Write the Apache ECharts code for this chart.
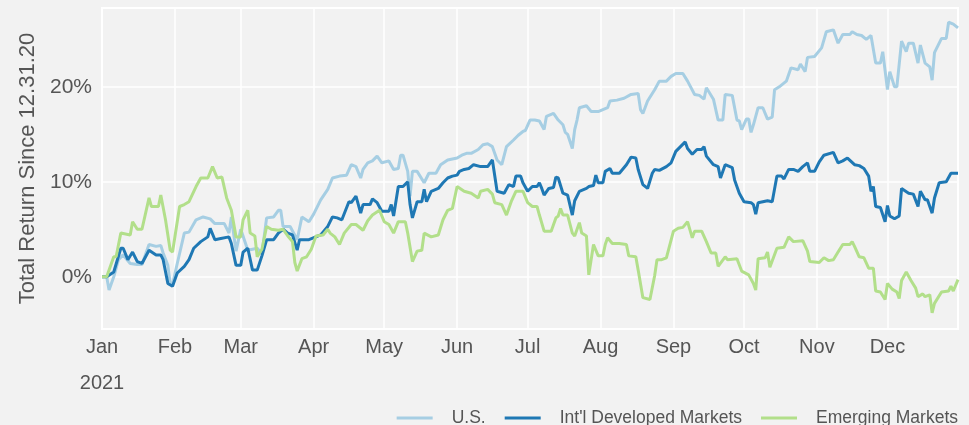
<!DOCTYPE html>
<html>
<head>
<meta charset="utf-8">
<script src="https://cdn.jsdelivr.net/npm/echarts@6/dist/echarts.min.js"></script>
<style>
  html, body { margin: 0; padding: 0; background: #f2f2f2; }
  #chart { width: 969px; height: 425px; }
</style>
</head>
<body>
<div id="chart"></div>
<script>
// day of 2021 (0 = Jan 1), return in %
var usDays = [0, 2, 3, 5, 7, 9, 12, 15, 17, 20, 23, 25, 26, 28, 29, 30, 32, 35, 37, 40, 43, 46, 48, 52, 54, 55, 57, 59, 62, 66, 68, 70, 73, 75, 76, 77, 80, 83, 85, 88, 90, 93, 96, 98, 101, 104, 106, 108, 110, 111, 113, 115, 117, 119, 122, 124, 126, 127, 128, 130, 131, 132, 134, 137, 139, 142, 144, 147, 151, 153, 155, 157, 160, 162, 164, 166, 168, 170, 172, 175, 177, 179, 180, 182, 184, 186, 188, 189, 192, 194, 196, 197, 198, 200, 201, 202, 203, 206, 208, 211, 215, 216, 219, 222, 225, 228, 229, 230, 232, 235, 237, 240, 242, 244, 247, 249, 252, 254, 256, 257, 260, 262, 264, 265, 268, 270, 271, 272, 274, 275, 276, 277, 279, 281, 283, 285, 286, 288, 291, 293, 296, 297, 299, 300, 303, 306, 308, 311, 313, 315, 318, 319, 321, 323, 325, 327, 329, 331, 332, 333, 334, 335, 337, 338, 340, 342, 343, 345, 347, 348, 350, 352, 353, 354, 357, 359, 360, 362, 364];
var usVals = [0, 0, -1.4, 0, 1.8, 2.3, 1.4, 1.3, 1.3, 3.4, 3.2, 3.3, 2.5, 1.2, -0.7, -0.8, 1.4, 4.6, 4.7, 6.0, 6.3, 6.1, 5.6, 5.6, 4.6, 6.3, 2.7, 5.0, 2.8, 3.0, 2.4, 6.2, 6.3, 7.0, 7.0, 5.3, 5.3, 3.9, 6.3, 5.8, 6.6, 8.1, 9.2, 10.4, 10.6, 10.7, 11.8, 11.6, 10.4, 11.3, 12.0, 12.2, 12.7, 12.0, 12.2, 11.3, 11.4, 12.8, 12.8, 11.1, 8.5, 11.1, 11.1, 9.9, 10.9, 10.9, 11.8, 12.3, 12.5, 12.8, 13.0, 13.0, 13.4, 13.9, 14.0, 13.7, 12.3, 11.8, 13.7, 14.4, 14.9, 15.3, 15.4, 16.5, 16.5, 16.4, 15.5, 16.9, 17.2, 16.5, 16.0, 15.2, 15.0, 13.5, 15.5, 16.5, 17.8, 18.0, 17.4, 17.4, 17.8, 18.5, 18.6, 18.8, 19.2, 19.3, 17.6, 17.2, 18.5, 19.7, 20.6, 20.6, 21.1, 21.4, 21.4, 20.6, 19.2, 19.1, 18.7, 19.9, 18.7, 16.5, 16.5, 19.2, 19.1, 16.5, 16.4, 15.5, 16.6, 16.6, 15.2, 16.0, 17.8, 17.8, 16.6, 16.8, 19.7, 20.0, 20.6, 22.0, 21.8, 22.4, 21.6, 23.1, 23.2, 24.1, 25.8, 26.0, 24.6, 25.5, 25.5, 25.8, 25.5, 25.4, 25.0, 25.4, 22.5, 22.5, 23.7, 21.7, 19.7, 21.6, 20.0, 20.0, 24.8, 23.7, 24.6, 24.6, 22.5, 24.4, 22.5, 22.1, 20.7, 23.6, 25.1, 25.1, 26.8, 26.6, 26.2];

var intlDays = [0, 2, 5, 8, 9, 11, 13, 15, 17, 20, 23, 25, 26, 28, 30, 32, 35, 37, 39, 42, 45, 46, 48, 50, 54, 55, 57, 59, 60, 62, 64, 66, 68, 70, 73, 75, 77, 79, 81, 83, 84, 88, 93, 96, 98, 100, 102, 105, 106, 108, 110, 111, 114, 115, 117, 119, 122, 123, 124, 126, 128, 130, 131, 132, 134, 136, 137, 138, 140, 143, 145, 147, 149, 151, 152, 154, 156, 158, 161, 164, 166, 168, 171, 173, 175, 176, 178, 179, 181, 183, 185, 186, 187, 188, 190, 192, 193, 194, 196, 198, 200, 201, 203, 206, 207, 209, 210, 211, 213, 214, 216, 217, 220, 223, 225, 227, 228, 230, 232, 234, 235, 237, 240, 242, 244, 246, 248, 249, 251, 253, 255, 256, 257, 260, 262, 263, 265, 268, 269, 271, 273, 276, 277, 278, 279, 281, 283, 285, 287, 289, 290, 292, 294, 296, 298, 300, 301, 303, 305, 307, 311, 313, 315, 317, 320, 322, 324, 326, 327, 328, 329, 331, 333, 334, 335, 337, 339, 340, 343, 345, 347, 348, 350, 351, 353, 354, 356, 359, 361, 364];
var intlVals = [0, 0, 0.5, 3.0, 3.0, 1.8, 2.6, 1.6, 1.4, 2.8, 2.3, 2.3, 1.8, -0.7, -1.0, 0.4, 1.1, 1.8, 3.0, 3.7, 4.2, 5.1, 3.9, 4.0, 4.2, 3.5, 1.2, 1.2, 2.6, 3.0, 0.7, 0.7, 2.2, 3.9, 3.9, 4.6, 5.0, 4.6, 4.4, 2.8, 3.9, 3.9, 4.4, 5.3, 6.3, 6.2, 6.0, 7.9, 7.8, 8.5, 6.7, 7.6, 7.6, 8.2, 7.8, 6.9, 6.9, 7.6, 6.4, 9.5, 9.5, 10.0, 7.6, 6.2, 7.9, 7.9, 9.2, 7.9, 9.0, 9.3, 9.9, 10.4, 10.6, 10.7, 11.1, 11.3, 11.4, 11.8, 11.6, 11.6, 12.3, 9.0, 8.8, 9.7, 9.5, 10.6, 10.6, 9.9, 9.0, 9.5, 9.5, 9.9, 9.3, 8.6, 9.3, 9.4, 10.5, 10.4, 8.8, 8.6, 6.5, 8.0, 9.0, 9.3, 9.5, 9.6, 10.7, 9.9, 9.9, 11.1, 11.4, 10.9, 10.9, 11.8, 12.6, 12.5, 11.3, 9.7, 9.3, 10.9, 11.3, 11.2, 11.6, 12.0, 13.2, 13.7, 14.2, 13.5, 12.9, 13.4, 13.4, 13.7, 12.7, 11.8, 11.6, 10.4, 11.8, 11.5, 10.2, 8.8, 7.9, 7.8, 7.6, 6.6, 7.8, 7.9, 8.0, 7.9, 10.6, 10.6, 10.3, 11.3, 11.3, 11.1, 11.6, 12.0, 11.1, 11.1, 12.1, 12.8, 13.1, 12.0, 12.2, 12.5, 11.8, 11.7, 11.4, 10.6, 9.0, 9.5, 7.4, 7.3, 5.8, 7.5, 6.4, 6.1, 6.4, 9.3, 8.8, 8.7, 7.4, 9.0, 8.1, 8.1, 6.7, 8.3, 9.9, 10.0, 10.9, 10.9];

var emDays = [0, 2, 5, 6, 8, 12, 13, 15, 17, 20, 21, 24, 25, 27, 29, 30, 33, 35, 37, 40, 42, 45, 47, 49, 51, 53, 55, 57, 59, 60, 62, 63, 65, 66, 68, 70, 72, 75, 77, 79, 81, 82, 83, 85, 87, 89, 91, 94, 96, 97, 99, 101, 103, 106, 108, 111, 113, 115, 118, 120, 122, 124, 126, 129, 130, 132, 134, 136, 137, 140, 143, 145, 147, 149, 151, 154, 157, 160, 161, 164, 166, 167, 170, 172, 174, 176, 179, 181, 183, 185, 186, 188, 191, 193, 194, 195, 196, 198, 200, 201, 203, 204, 206, 207, 209, 211, 213, 214, 215, 217, 220, 223, 224, 227, 228, 230, 233, 235, 236, 238, 240, 243, 245, 247, 249, 251, 252, 255, 257, 259, 261, 262, 265, 266, 270, 272, 275, 277, 278, 279, 282, 283, 284, 287, 290, 292, 294, 298, 300, 301, 305, 307, 309, 311, 313, 315, 318, 319, 320, 322, 324, 326, 328, 329, 331, 333, 334, 336, 338, 339, 340, 342, 344, 346, 347, 349, 350, 352, 353, 354, 357, 360, 361, 362, 364];
var emVals = [0, 0, 2.1, 2.1, 4.6, 4.4, 5.8, 5.0, 5.0, 8.3, 7.4, 7.4, 8.6, 6.0, 2.8, 2.6, 7.4, 7.6, 7.9, 9.5, 10.4, 10.4, 11.6, 10.4, 10.5, 8.3, 7.0, 4.2, 4.2, 6.0, 7.0, 4.6, 4.3, 2.1, 2.9, 5.3, 5.0, 4.9, 5.0, 4.3, 3.7, 1.5, 0.6, 1.9, 2.1, 2.9, 4.3, 4.4, 5.0, 4.6, 4.2, 3.4, 4.6, 5.5, 5.5, 4.9, 5.9, 6.5, 7.0, 5.8, 5.5, 4.6, 5.8, 5.8, 4.6, 1.6, 2.7, 2.8, 4.6, 4.2, 4.4, 6.0, 7.0, 7.2, 9.5, 9.0, 8.8, 8.3, 9.0, 9.2, 8.7, 7.8, 7.6, 6.5, 7.9, 9.0, 9.0, 7.8, 7.4, 7.4, 6.5, 4.8, 4.8, 6.2, 6.4, 7.2, 6.5, 6.5, 4.6, 4.3, 5.7, 4.6, 4.3, 0.2, 3.4, 2.2, 2.2, 3.4, 4.1, 3.5, 3.5, 3.4, 2.2, 2.1, 0.7, -2.2, -2.4, 0.1, 1.8, 1.8, 2.0, 4.8, 5.1, 5.2, 5.8, 4.1, 4.8, 4.8, 3.7, 2.5, 2.5, 1.1, 2.1, 1.8, 1.9, 0.6, 0.2, -0.7, -1.4, 1.9, 2.0, 2.6, 1.0, 3.0, 3.1, 4.2, 3.7, 3.8, 2.7, 1.6, 1.5, 2.0, 1.7, 1.8, 2.6, 3.4, 3.4, 3.7, 3.2, 2.1, 2.0, 0.9, 0.9, -1.5, -1.6, -2.4, -0.7, -1.3, -1.6, -2.3, -0.4, 0.5, -0.4, -1.2, -2.1, -1.8, -2.1, -1.9, -3.8, -2.8, -1.6, -1.5, -1.0, -1.5, -0.3];

var monthDays = [0, 31, 59, 90, 120, 151, 181, 212, 243, 273, 304, 334];
var monthNames = ['Jan', 'Feb', 'Mar', 'Apr', 'May', 'Jun', 'Jul', 'Aug', 'Sep', 'Oct', 'Nov', 'Dec'];
var yTicks = [0, 10, 20];

function pairs(days, vals) {
    return days.map(function (d, i) { return [d, vals[i]]; });
}

var FONT = '"Liberation Sans", Arial, sans-serif';
var TXT = '#555555';

var chart = echarts.init(document.getElementById('chart'));
chart.setOption({
    backgroundColor: '#f2f2f2',
    animation: false,
    color: ['#a6cee3', '#1f78b4', '#b2df8a'],
    grid: {
        left: 102, right: 11, top: 8, bottom: 96,
        show: true,
        backgroundColor: '#f2f2f2',
        borderColor: '#ffffff',
        borderWidth: 2
    },
    legend: {
        right: 6,
        top: 404,
        icon: 'rect',
        itemWidth: 36,
        itemHeight: 3,
        itemGap: 19,
        textStyle: { fontFamily: FONT, fontSize: 17.5, color: TXT, padding: [0, 0, 0, 14] },
        data: ['U.S.', "Int'l Developed Markets", 'Emerging Markets']
    },
    xAxis: {
        type: 'value',
        min: 0,
        max: 364,
        axisLine: { show: false },
        axisTick: { show: false, customValues: monthDays },
        splitLine: { show: true, lineStyle: { color: '#ffffff', width: 1.5 } },
        axisLabel: {
            customValues: monthDays,
            margin: 0,
            fontFamily: FONT,
            fontSize: 20,
            color: TXT,
            lineHeight: 36,
            formatter: function (v) {
                var i = monthDays.indexOf(v);
                if (i < 0) return '';
                return i === 0 ? monthNames[i] + '\n2021' : monthNames[i];
            }
        }
    },
    yAxis: {
        type: 'value',
        min: -5.5,
        max: 28.3,
        name: 'Total Return Since 12.31.20',
        nameLocation: 'middle',
        nameGap: 56,
        nameTextStyle: { fontFamily: FONT, fontSize: 22, color: TXT },
        axisLine: { show: false },
        axisTick: { show: false, customValues: yTicks },
        splitLine: { show: true, lineStyle: { color: '#ffffff', width: 1.5 } },
        axisLabel: {
            customValues: yTicks,
            margin: 10,
            fontFamily: FONT,
            fontSize: 21,
            color: TXT,
            formatter: '{value}%'
        }
    },
    series: [{
        name: 'U.S.',
        type: 'line',
        symbol: 'none',
        lineStyle: { width: 3 },
        data: pairs(usDays, usVals)
    }, {
        name: "Int'l Developed Markets",
        type: 'line',
        symbol: 'none',
        lineStyle: { width: 3 },
        data: pairs(intlDays, intlVals)
    }, {
        name: 'Emerging Markets',
        type: 'line',
        symbol: 'none',
        lineStyle: { width: 3 },
        data: pairs(emDays, emVals)
    }]
});
</script>
</body>
</html>
